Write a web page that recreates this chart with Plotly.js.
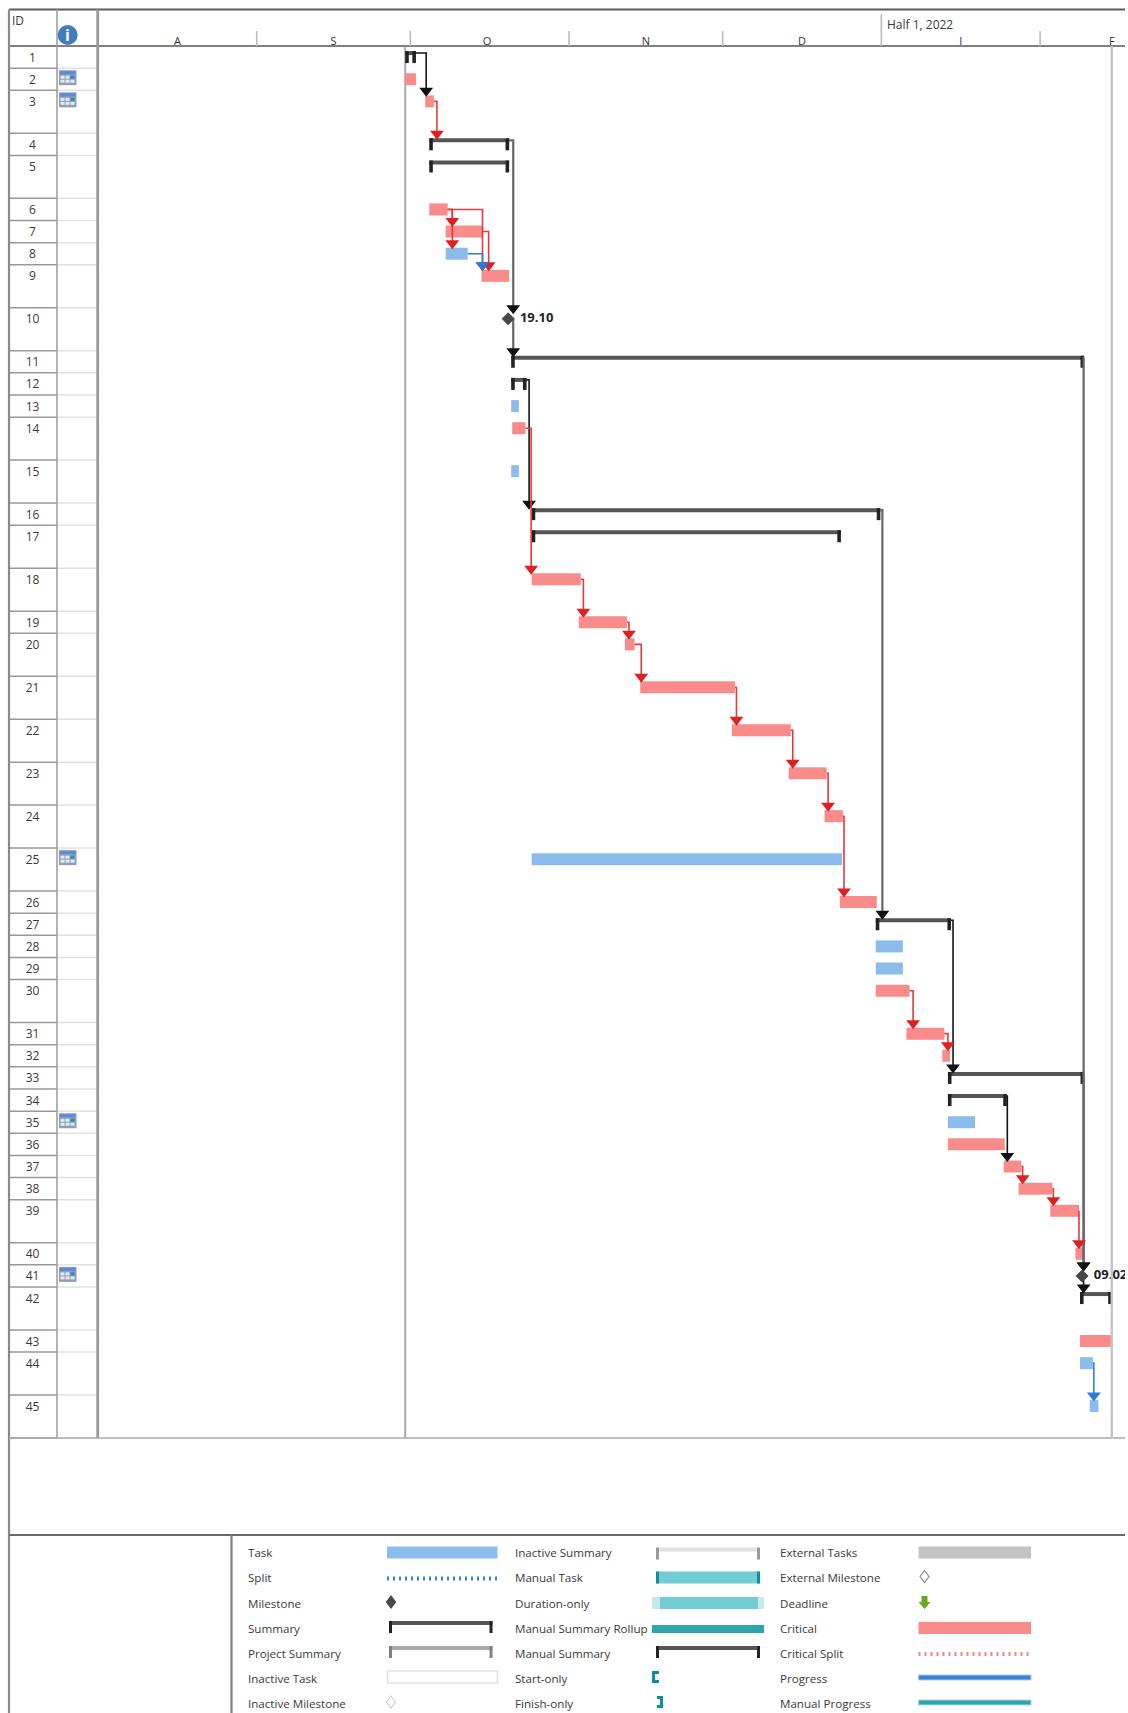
<!DOCTYPE html>
<html><head><meta charset="utf-8">
<script src="https://cdn.plot.ly/plotly-3.0.1.min.js"></script>
<style>html,body{margin:0;padding:0;background:#fff;overflow:hidden}#g{width:1125px;height:1713px}</style>
</head><body><div id="g"></div>
<script>
// ---------- data (days counted from 1 Aug 2021) ----------
var rowIds = [];
for (var n = 1; n <= 45; n++) rowIds.push(n);
var rowHeights = [1,1,1.94,1,1.94,1,1,1,1.94,1.94,1,1,1,1.94,1.94,1,1.94,1.94,1,1.94,1.94,1.94,1.94,1.94,1.94,1,1,1,1,1.94,1,1,1,1,1,1,1,1,1.94,1,1,1.94,1,1.94,1.94];
var iconRows = [2,3,25,35,41];

var taskRows  = [8,13,15,25,28,29,35,44,45];
var taskStart = [67.9,80.7,80.7,84.7,151.9,151.9,166,191.8,193.7];
var taskEnd   = [72.2,82.2,82.2,145.3,157.2,157.2,171.3,194.3,195.4];

var critRows  = [2,3,6,7,9,14,18,19,20,21,22,23,24,26,30,31,32,36,37,38,39,40,43];
var critStart = [60,63.9,64.7,67.9,74.9,80.9,84.7,93.9,102.9,105.9,123.8,134.9,141.9,144.9,151.9,157.9,164.9,166,176.9,179.8,186,190.9,191.8];
var critEnd   = [62.1,65.6,68.3,75.2,80.3,83.5,94.3,103.3,104.8,124.4,135.3,142.3,145.5,152.1,158.5,165.3,166.4,177.1,180.3,186.4,191.6,192.4,198];

var sumRows  = [1,4,5,11,12,16,17,27,33,34,42];
var sumStart = [60,64.7,64.7,80.7,80.7,84.7,84.7,151.9,166,166,191.8];
var sumEnd   = [62.1,80.3,80.3,192.6,83.7,152.8,145.1,166.6,192.6,177.5,198];

var mileRows   = [10,41];
var mileDays   = [80.1,192.2];
var mileLabels = ['19.10','09.02'];

var linkFrom  = [1,3,4,10,6,6,6,7,8,12,14,18,19,20,21,22,23,24,16,27,30,31,34,37,38,39,11,33,41,44];
var linkTo    = [3,4,10,11,7,8,9,9,9,16,18,19,20,21,22,23,24,26,27,33,31,32,37,38,39,40,41,41,42,45];
var linkX     = [64.1,66.2,81.1,81.1,69.2,69.2,75.1,76.3,75.1,84.2,84.6,94.8,103.7,106.1,124.7,135.7,142.6,145.7,153.2,167,159.2,166,177.6,180.6,186.6,191.6,192.5,192.5,192.5,194.5];
var linkKind  = ['k','r','g','g','r','r','r','r','b','k','r','r','r','r','r','r','r','r','g','k','r','r','k','r','r','r','g','g','k','b'];

var monthLabels = ['A','S','O','N','D','J','F'];
var monthMids   = [15.5,46,76,107,137.5,168.5,198];
var monthEdges  = [31,61,92,122,153,184];
var projectStartDay = 60;
var statusDay = 198;

var legendCol1 = ['Task','Split','Milestone','Summary','Project Summary','Inactive Task','Inactive Milestone'];
var legendCol2 = ['Inactive Summary','Manual Task','Duration-only','Manual Summary Rollup','Manual Summary','Start-only','Finish-only'];
var legendCol3 = ['External Tasks','External Milestone','Deadline','Critical','Critical Split','Progress','Manual Progress'];

// ---------- layout constants ----------
var W = 1125, H = 1713;
var L = 98, TOP = 46, BOT = 1438;
var PX_PER_DAY = 5.12;
var FONT = '"Open Sans", "Noto Sans", sans-serif';
var TXT = '#3a3a3a';
var CRIT = '#fa8b8b', TASK = '#8bbcec', SUMB = '#555555', CAP = '#222222';
var kinds = {k:'#151515', r:'#e6393b', g:'#666666', b:'#2f7fdc'};
var heads = {k:'#111111', r:'#e02020', g:'#111111', b:'#2a7ad8'};

var totalUnits = rowHeights.reduce(function(a,b){return a+b;},0);
var unitPx = (BOT-TOP)/totalUnits;
var rowTop = [], acc = 0;
rowHeights.forEach(function(h){ rowTop.push(acc); acc += h; });
function cy(r){ return rowTop[r-1] + 0.5; }
var BARH = 12/unitPx;
function dur(a,b){ return b.map(function(v,i){return v-a[i];}); }
function px(x){ return x/W; }
function py(y){ return 1-y/H; }

var traces = [];
function barTrace(rows, s, e, color, h, off){
  return {type:'bar', orientation:'h', base:s, x:dur(s,e),
    y:rows.map(function(r){return cy(r)+(off||0);}), width:h,
    marker:{color:color, line:{width:0}}, hoverinfo:'skip', showlegend:false};
}
traces.push(barTrace(taskRows, taskStart, taskEnd, TASK, BARH));
traces.push(barTrace(critRows, critStart, critEnd, CRIT, BARH));
traces.push(barTrace(sumRows, sumStart, sumEnd, SUMB, 4/unitPx, -4/unitPx));
var capW = 0.7;
traces.push(barTrace(sumRows, sumStart, sumStart.map(function(v){return v+capW;}), CAP, BARH));
traces.push(barTrace(sumRows, sumEnd.map(function(v){return v-capW;}), sumEnd, CAP, BARH));

// links
function rowRight(r){
  var i = sumRows.indexOf(r); if (i>=0) return sumEnd[i];
  i = critRows.indexOf(r); if (i>=0) return critEnd[i];
  i = taskRows.indexOf(r); if (i>=0) return taskEnd[i];
  return mileDays[mileRows.indexOf(r)];
}
function isSum(r){ return sumRows.indexOf(r)>=0; }
['g','k','r','b'].forEach(function(k){
  var xs=[], ys=[], ax=[], ay=[];
  linkFrom.forEach(function(f,i){
    if (linkKind[i]!==k) return;
    var t = linkTo[i];
    var y0 = isSum(f) ? cy(f)-4/unitPx : cy(f);
    var yTip = cy(t)-BARH/2;
    xs.push(rowRight(f), linkX[i], linkX[i], null);
    ys.push(y0, y0, yTip-2/unitPx, null);
    ax.push(linkX[i]); ay.push(yTip-4.5/unitPx);
  });
  traces.push({type:'scatter', mode:'lines', x:xs, y:ys, connectgaps:false,
    line:{color:kinds[k], width:k==='g'?2.2:1.6}, hoverinfo:'skip', showlegend:false});
  traces.push({type:'scatter', mode:'markers', x:ax, y:ay,
    marker:{symbol:'triangle-down', size:12, color:heads[k], line:{width:0}}, hoverinfo:'skip', showlegend:false});
});

// milestones
traces.push({type:'scatter', mode:'markers', x:mileDays, y:mileRows.map(cy),
  marker:{symbol:'diamond', size:10, color:'#484848', line:{width:0}}, hoverinfo:'skip', showlegend:false});
traces.push({type:'scatter', mode:'text', x:mileDays.map(function(d){return d+2.3;}), y:mileRows.map(cy), text:mileLabels,
  textposition:'middle right', cliponaxis:false,
  textfont:{family:FONT, size:13, color:'#222', weight:700}, hoverinfo:'skip', showlegend:false});

// ID column, on its own small axes sharing the row scale
traces.push({type:'scatter', mode:'text', xaxis:'x2', yaxis:'y2',
  x:rowIds.map(function(){return 32.5;}), y:rowIds.map(function(r){return cy(r)+1.5/unitPx;}), text:rowIds.map(String),
  textposition:'middle center', cliponaxis:false,
  textfont:{family:FONT, size:12, color:TXT}, hoverinfo:'skip', showlegend:false});

// ---------- shapes ----------
var shapes = [], ann = [];
function line(x0,y0,x1,y1,c,w,dash){
  shapes.push({type:'line', xref:'paper', yref:'paper', x0:px(x0), x1:px(x1), y0:py(y0), y1:py(y1),
    line:{color:c, width:w, dash:dash||'solid'}});
}
function rect(x0,y0,x1,y1,fill,lc,lw){
  shapes.push({type:'rect', xref:'paper', yref:'paper', x0:px(x0), x1:px(x1), y0:py(y0), y1:py(y1),
    fillcolor:fill, line:{color:lc||fill, width:lw||0}});
}
function diamond(x,y,r,fill,lc){
  shapes.push({type:'path', xref:'paper', yref:'paper',
    path:'M'+px(x)+' '+py(y-r)+' L'+px(x+r*0.75)+' '+py(y)+' L'+px(x)+' '+py(y+r)+' L'+px(x-r*0.75)+' '+py(y)+' Z',
    fillcolor:fill, line:{color:lc||fill, width:1.2}});
}
function text(x,y,s,opts){
  opts = opts||{};
  ann.push({xref:'paper', yref:'paper', x:px(x), y:py(y), text:s, showarrow:false,
    xanchor:opts.anchor||'left', yanchor:'middle', borderpad:0,
    font:{family:FONT, size:opts.size||11.6, color:opts.color||TXT, weight:opts.weight||400}});
}

// row separators from the row table
rowTop.concat([totalUnits]).forEach(function(u,i){
  if (i===0) return;
  var yy = TOP + u*unitPx;
  line(9,yy,57,yy,'#999999',1.5);
  line(57,yy,97,yy,'#e2e2e2',1.5);
});
// frame
line(9,9.5,W,9.5,'#5a5a5a',2.2);
line(9,46,W,46,'#808080',2.2);
line(9,9.5,9,H,'#8a8a8a',2.2);
line(57,9.5,57,BOT,'#a0a0a0',1.6);
line(97.7,9.5,97.7,BOT,'#9a9a9a',2.8);
line(9,BOT,W,BOT,'#aaaaaa',1.6);
line(9,1535,W,1535,'#6a6a6a',1.8);
line(231.5,1535,231.5,H,'#808080',2.2);
// timescale ticks & status lines, from the axis values
monthEdges.forEach(function(d){
  shapes.push({type:'line', xref:'x', yref:'paper', x0:d, x1:d, y0:py(d===153?14:31), y1:py(46),
    line:{color:'#bcbcbc', width:1.6}});
});
shapes.push({type:'line', xref:'x', yref:'paper', x0:projectStartDay, x1:projectStartDay, y0:py(46), y1:py(BOT), layer:'below', line:{color:'#aaaaaa', width:2}});
shapes.push({type:'line', xref:'x', yref:'paper', x0:statusDay, x1:statusDay, y0:py(46), y1:py(BOT), line:{color:'#c4c4c4', width:2.4}});

text(11,21,'ID',{size:12});
text(885.5,24,'Half 1, 2022',{size:12});
// info icon
shapes.push({type:'circle', xref:'paper', yref:'paper', x0:px(57.7), x1:px(77.7), y0:py(25), y1:py(45), fillcolor:'#3f7cbc', line:{width:0}});
text(67.7,35,'i',{anchor:'center', size:16, color:'#ffffff', weight:700});
// calendar icons
iconRows.forEach(function(r){
  var c = TOP + cy(r)*unitPx - 1.5;
  var x0 = 59, x1 = 76.5, y0 = c-7.5, y1 = c+7.5;
  rect(x0,y0,x1,y1,'#8f9fb8');
  rect(x0+1,y0+1,x1-1,y0+4,'#5a8adc');
  [0,1,2].forEach(function(col){
    [0,1].forEach(function(rw){
      var cx0 = x0+1.5+col*5, cy0 = y0+5.5+rw*4;
      rect(cx0, cy0, cx0+4, cy0+3, (col===2 && rw===0) ? '#1f8fd0' : '#e4e9f2');
    });
  });
});

// ---------- legend ----------
var legY = [1552.5,1577.5,1603,1628,1653,1678,1703];
legendCol1.forEach(function(s,i){ text(246.5,legY[i],s); });
legendCol2.forEach(function(s,i){ text(513.5,legY[i],s); });
legendCol3.forEach(function(s,i){ text(779,legY[i],s); });
function summary(x0,x1,y,bar,cap){
  rect(x0,y-6,x1,y-2,bar);
  rect(x0,y-6,x0+3,y+6,cap);
  rect(x1-3,y-6,x1,y+6,cap);
}
var Y = legY;
rect(387,Y[0]-6,497.5,Y[0]+6,TASK);
line(387,Y[1]+1,497.5,Y[1]+1,'#3a82d6',4,'2px,4px');
diamond(391,Y[2]-1,6,'#484848');
summary(389,492.5,Y[3]-1,SUMB,CAP);
summary(389,492.5,Y[4]-1,'#aaaaaa','#808080');
rect(387.5,Y[5]-7,497.5,Y[5]+5,'#ffffff','#e2e2e2',1.6);
diamond(391,Y[6]-1,6,'#ffffff','#d0d0d0');

summary(656,760,Y[0]+1,'#e2e2e2','#9a9a9a');
rect(656,Y[1]-6,760,Y[1]+6,'#72ccd3');
rect(656,Y[1]-6,659,Y[1]+6,'#0e8f99');
rect(757,Y[1]-6,760,Y[1]+6,'#0e8f99');
rect(652,Y[2]-6,764,Y[2]+6,'#c4e8eb');
rect(660,Y[2]-6,758,Y[2]+6,'#72ccd3');
rect(652,Y[3]-3,764,Y[3]+5,'#2ea5ad');
summary(656,760,Y[4]-1,SUMB,CAP);
var T='#0e8f99';
rect(652,Y[5]-7,655,Y[5]+5,T); rect(652,Y[5]-7,659,Y[5]-4,T); rect(652,Y[5]+2,659,Y[5]+5,T);
rect(660,Y[6]-7,663,Y[6]+5,T); rect(657,Y[6]-7,663,Y[6]-4,T); rect(657,Y[6]+2,663,Y[6]+5,T);

rect(918.5,Y[0]-6,1031,Y[0]+6,'#c4c4c4');
diamond(924.5,Y[1]-1,6,'#ffffff','#8a8a8a');
shapes.push({type:'path', xref:'paper', yref:'paper',
  path:'M'+px(921.5)+' '+py(Y[2]-7)+' L'+px(927.5)+' '+py(Y[2]-7)+' L'+px(927.5)+' '+py(Y[2]-1)+' L'+px(930.5)+' '+py(Y[2]-1)+
       ' L'+px(924.5)+' '+py(Y[2]+6)+' L'+px(918.5)+' '+py(Y[2]-1)+' L'+px(921.5)+' '+py(Y[2]-1)+' Z',
  fillcolor:'#6aa81e', line:{width:0}});
rect(918.5,Y[3]-6,1031,Y[3]+6,CRIT);
line(918.5,Y[4]+1,1031,Y[4]+1,'#f08a8a',4,'2px,4px');
rect(918.5,Y[5]-3,1031,Y[5]+2,'#3a82d6','#a8c8ee',1);
rect(918.5,Y[6]-3,1031,Y[6]+2,'#2ea5ad','#a8dadd',1);

// ---------- figure ----------
var yDomain = [py(BOT), py(TOP)];
var layout = {
  width:W, height:H, margin:{l:0,r:0,t:0,b:0,pad:0},
  paper_bgcolor:'#ffffff', plot_bgcolor:'#ffffff',
  barmode:'overlay', showlegend:false, font:{family:FONT, color:TXT},
  xaxis:{domain:[L/W,1], range:[0,(W-L)/PX_PER_DAY], side:'top', anchor:'y',
    tickmode:'array', tickvals:monthMids, ticktext:monthLabels, ticks:'',
    ticklabelstandoff:-2,
    tickfont:{family:FONT, size:11, color:'#333'},
    showgrid:false, zeroline:false, showline:false, automargin:false},
  yaxis:{domain:yDomain, range:[totalUnits,0], anchor:'x', showticklabels:false, ticks:'',
    showgrid:false, zeroline:false, showline:false, automargin:false},
  xaxis2:{domain:[0,L/W], range:[0,L], anchor:'y2', visible:false},
  yaxis2:{domain:yDomain, range:[totalUnits,0], anchor:'x2', visible:false},
  shapes:shapes, annotations:ann
};
Plotly.newPlot('g', traces, layout, {staticPlot:true, displayModeBar:false, responsive:false});
</script>
</body></html>
